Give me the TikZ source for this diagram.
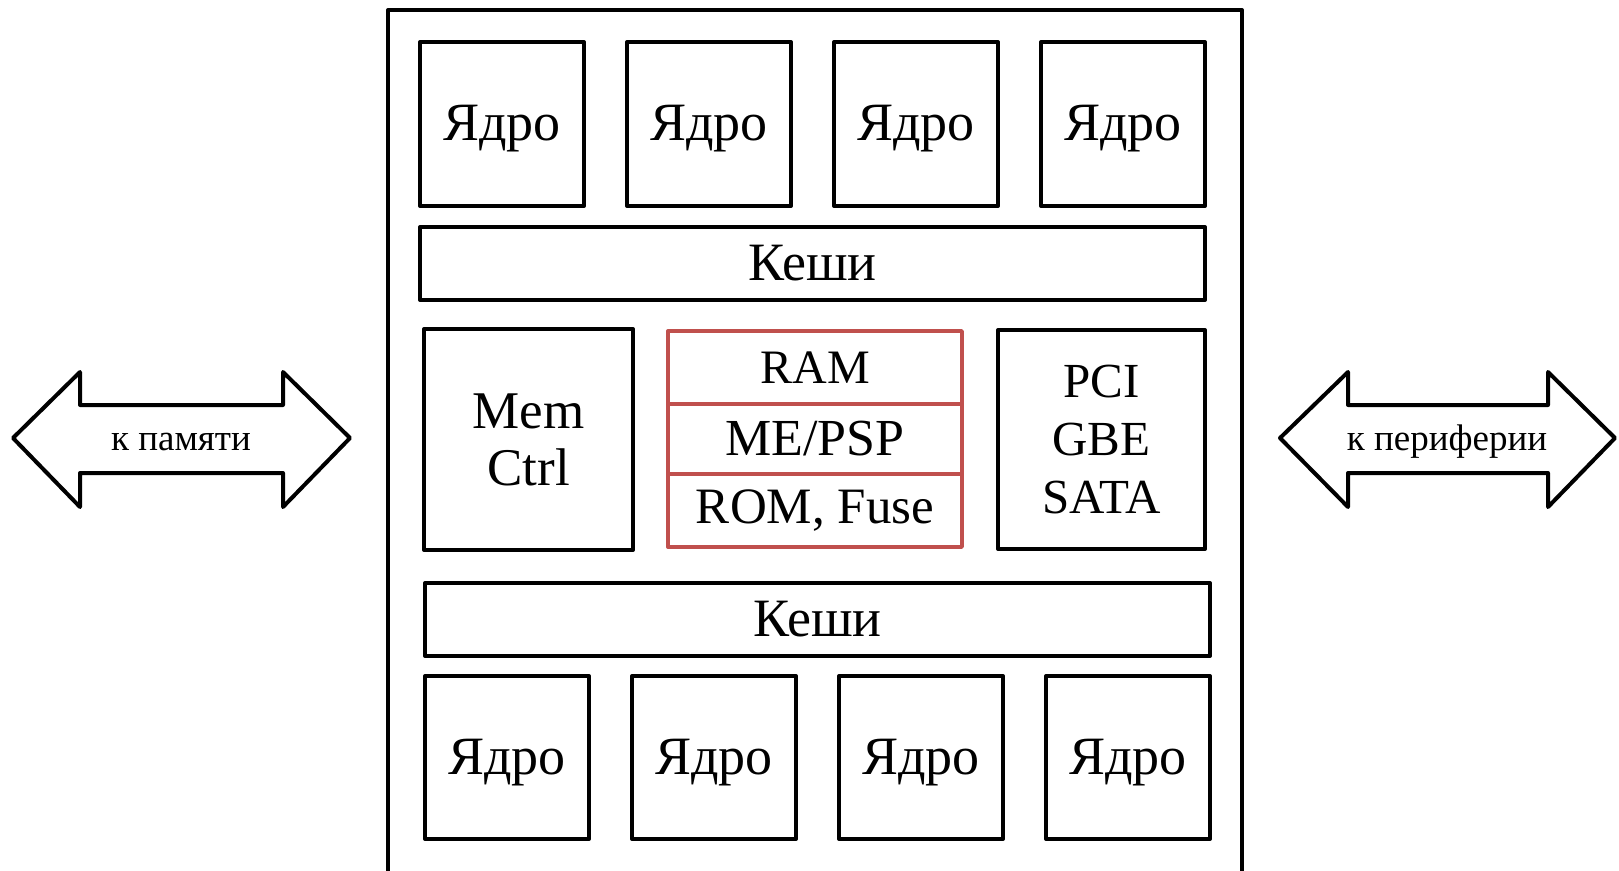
\documentclass[tikz,border=0pt]{standalone}
\usepackage{fontspec}
\setmainfont{Liberation Serif}
\definecolor{boxred}{RGB}{192,80,77}
\newcommand\BigF{\fontsize{54}{58}\selectfont}
\newcommand\SmallF{\fontsize{37}{42}\selectfont}
\begin{document}
\begin{tikzpicture}[x=1pt,y=-1pt,
  blk/.style={draw=black,line width=4pt,inner sep=0pt,outer sep=0pt,anchor=north west,line join=round,font=\BigF,align=center},
  redcell/.style={draw=boxred,line width=3.4pt,inner sep=0pt,outer sep=0pt,anchor=north west,line join=round,minimum width=294pt},
  core/.style={blk,minimum width=164pt,text depth=2pt},
  bigarrow/.style={draw=black,line width=4pt,line join=round,fill=white},
  lbl/.style={font=\SmallF,inner sep=0pt}]
\useasboundingbox (0,0) rectangle (1619,870);
% outer chip
\draw[line width=4pt,line join=round] (388,874) -- (388,10) -- (1242,10) -- (1242,874);
% top cores
\foreach \i/\x in {1/420,2/627,3/834,4/1041}
  \node[core,minimum height=164pt] (t\i) at (\x,42) {Ядро};
\node[blk,minimum width=785pt,minimum height=73pt] (c1) at (420,227) {Кеши};
% middle
\node[blk,minimum width=209pt,minimum height=221pt,font=\fontsize{53}{57}\selectfont] (mem) at (424,329) {Mem\\Ctrl};
\node[redcell,minimum height=73pt,font=\fontsize{48}{52}\selectfont] (ram) at (668,331) {RAM};
\node[redcell,minimum height=70pt,font=\fontsize{52}{56}\selectfont] (me) at (668,404) {ME/PSP};
\node[redcell,minimum height=73pt,font=\fontsize{51}{56}\selectfont] (rom) at (668,474) {ROM, Fuse};
\node[blk,minimum width=207pt,minimum height=219pt,font=\fontsize{49}{58}\selectfont] (pci) at (998,330) {PCI\\GBE\\SATA};
% bottom
\node[blk,minimum width=785pt,minimum height=73pt] (c2) at (425,583) {Кеши};
\foreach \i/\x in {1/425,2/632,3/839,4/1046}
  \node[core,minimum height=163pt] (b\i) at (\x,676) {Ядро};
% arrows
\draw[bigarrow] (13,438) -- (80,372) -- (80,405) -- (283,405) -- (283,372) -- (350,438)
  -- (283,507) -- (283,473) -- (80,473) -- (80,507) -- cycle;
\node[lbl] (mlab) at (181,442) {к памяти};
\draw[bigarrow] (1280,438) -- (1348,372) -- (1348,405) -- (1548,405) -- (1548,372) -- (1615,438)
  -- (1548,507) -- (1548,473) -- (1348,473) -- (1348,507) -- cycle;
\node[lbl] (plab) at (1447,442) {к периферии};
\end{tikzpicture}
\end{document}
